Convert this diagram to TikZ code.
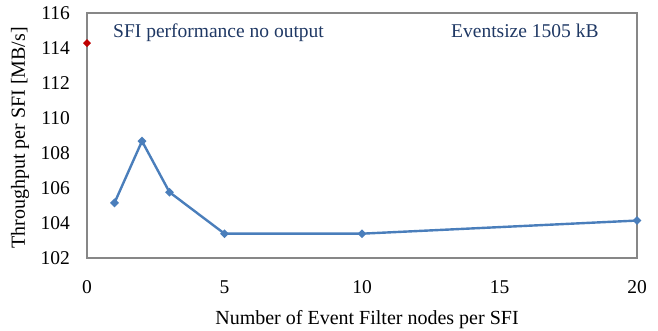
\documentclass[tikz,border=0pt]{standalone}
\usepackage{fontspec}
\setmainfont{Liberation Serif}
\usetikzlibrary{shapes.geometric}
\begin{document}
\begin{tikzpicture}[x=1pt,y=1pt,
  frame/.style={draw=black!47, line width=1.3pt},
  series/.style={draw=seriesblue, line width=2.4pt, line join=round},
  bluemark/.style={diamond, fill=seriesblue, inner sep=0pt, minimum size=9pt},
  redmark/.style={diamond, fill=markred, inner sep=0pt, minimum size=8pt},
  ticklab/.style={font=\fontsize{19.5}{22}\selectfont, inner sep=0pt},
  axtitle/.style={font=\fontsize{20}{24}\selectfont, inner sep=0pt},
  note/.style={font=\fontsize{19.5}{22}\selectfont, text=notenavy, inner sep=0pt, anchor=base west}]
\definecolor{seriesblue}{HTML}{4A7EBB}
\definecolor{markred}{HTML}{C00000}
\definecolor{notenavy}{HTML}{1F3864}
\useasboundingbox (0,0) rectangle (658,330);
% plot frame
\draw[frame] (87,72) rectangle (637,317);
% axis mapping: x = 87 + 27.5 X ; y = 72 + 17.5 (Y-102)
\foreach \v [count=\i from 0] in {102,104,...,116} {
  \node[ticklab, anchor=east] (yt\i) at (70, {72+17.5*(\v-102)}) {\v};
}
\foreach \v in {0,5,10,15,20} {
  \node[ticklab, anchor=center] (xt\v) at ({87+27.5*\v}, 43) {\v};
}
\node[axtitle, rotate=90] (ylab) at (20,192) {Throughput per SFI [MB/s]};
\node[axtitle] (xlab) at (367,10) {Number of Event Filter nodes per SFI};
\node[note] (n1) at (113,292.5) {SFI performance no output};
\node[note] (n2) at (451,292.5) {Eventsize 1505 kB};
% data
\coordinate (p1) at ({87+27.5*1}, {72+17.5*(105.15-102)});
\coordinate (p2) at ({87+27.5*2}, {72+17.5*(108.68-102)});
\coordinate (p3) at ({87+27.5*3}, {72+17.5*(105.76-102)});
\coordinate (p5) at ({87+27.5*5}, {72+17.5*(103.39-102)});
\coordinate (p10) at ({87+27.5*10}, {72+17.5*(103.39-102)});
\coordinate (p20) at ({87+27.5*20}, {72+17.5*(104.14-102)});
\draw[series] (p1) -- (p2) -- (p3) -- (p5) -- (p10) -- (p20);
\foreach \p in {p1,p2,p3,p5,p10,p20} { \node[bluemark] (m\p) at (\p) {}; }
\node[redmark] (r0) at (87, {72+17.5*(114.28-102)}) {};
\end{tikzpicture}
\end{document}
